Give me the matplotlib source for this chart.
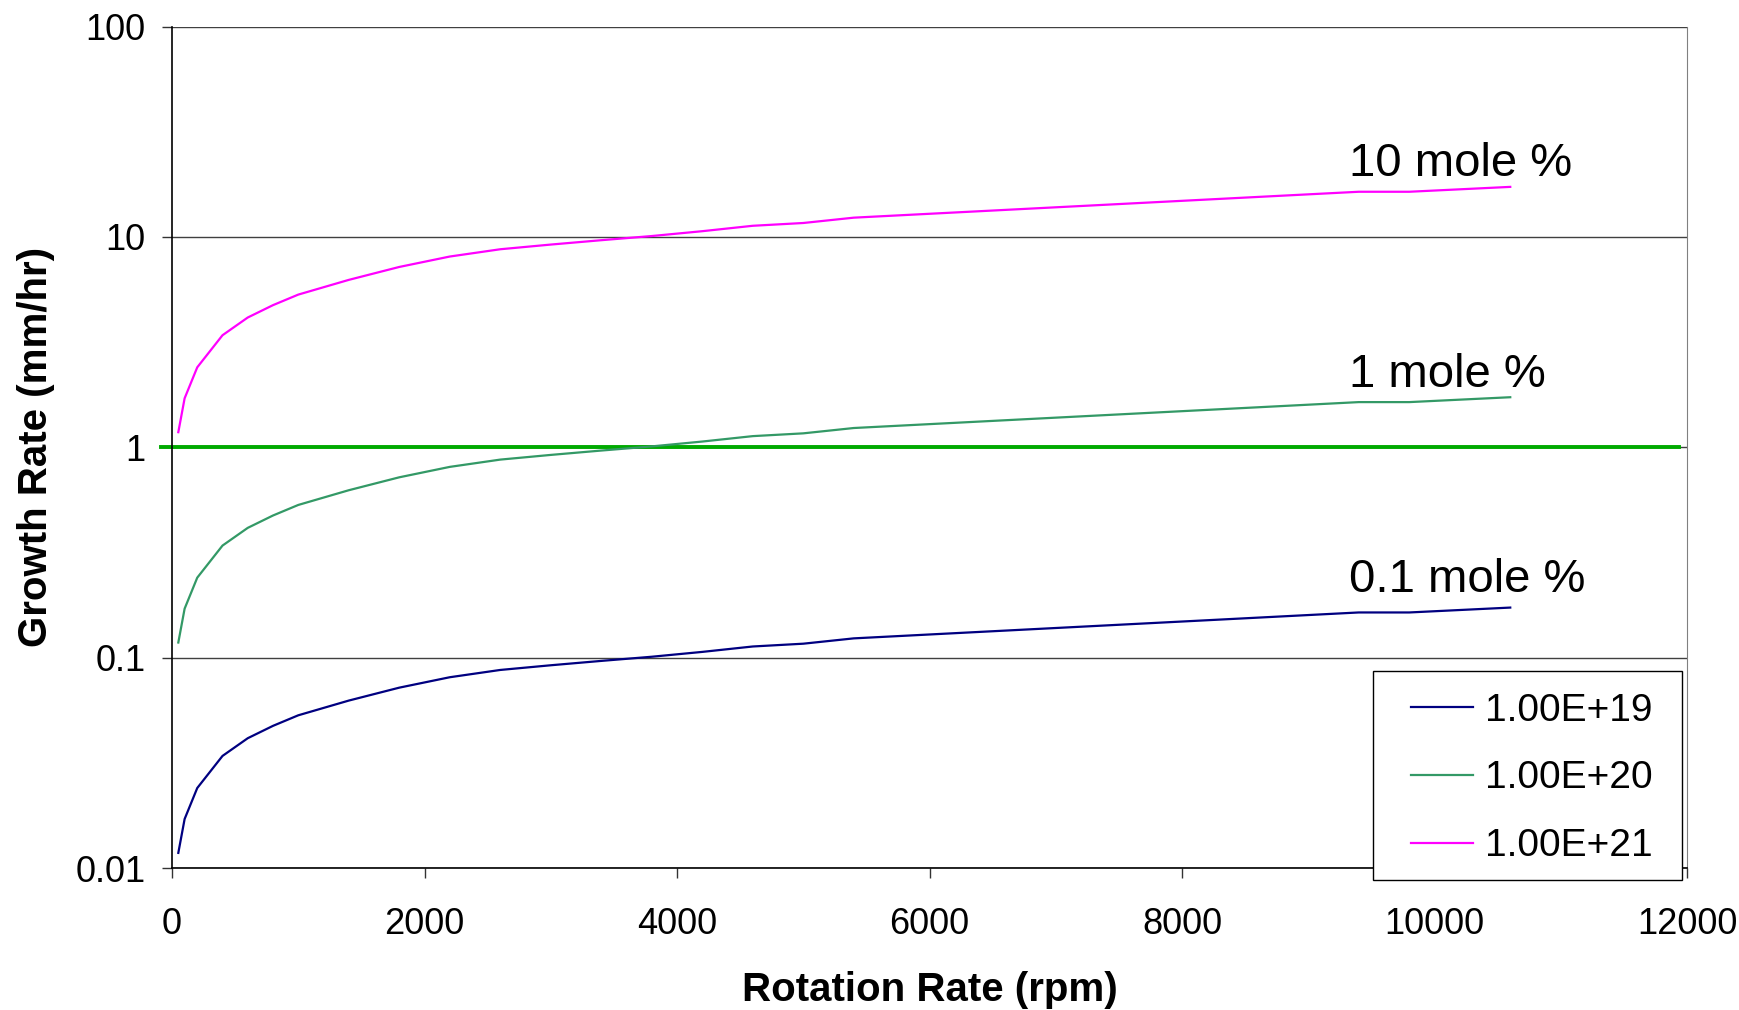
import matplotlib
matplotlib.use("Agg")
import matplotlib.pyplot as plt
from matplotlib.patches import Rectangle
from matplotlib.ticker import FixedLocator, FixedFormatter, NullLocator

plt.rcParams['font.family'] = ['Liberation Sans', 'DejaVu Sans']

# Data
rpm = [50, 100, 200, 400, 600, 800, 1000, 1400, 1800, 2200, 2600, 3000,
       3400, 3800, 4200, 4600, 5000, 5400, 9400, 9800, 10600]
rate_e19 = [0.0118, 0.0171, 0.0240, 0.0341, 0.0414, 0.0474, 0.0532, 0.0625,
            0.0720, 0.0807, 0.0874, 0.0920, 0.0965, 0.1010, 0.1065, 0.1130,
            0.1165, 0.1235, 0.1640, 0.1640, 0.1730]
rate_e20 = [0.118, 0.171, 0.240, 0.341, 0.414, 0.474, 0.532, 0.625,
            0.720, 0.807, 0.874, 0.920, 0.965, 1.010, 1.065, 1.130,
            1.165, 1.235, 1.640, 1.640, 1.730]
rate_e21 = [1.18, 1.71, 2.40, 3.41, 4.14, 4.74, 5.32, 6.25,
            7.20, 8.07, 8.74, 9.20, 9.65, 10.10, 10.65, 11.30,
            11.65, 12.35, 16.40, 16.40, 17.30]
series_labels = ['1.00E+19', '1.00E+20', '1.00E+21']
curve_labels = ['0.1 mole %', '1 mole %', '10 mole %']
series_colors = ['#000080', '#339966', '#ff00ff']
reference_level = 1.0

x_ticks = [0, 2000, 4000, 6000, 8000, 10000, 12000]
y_ticks = [0.01, 0.1, 1, 10, 100]
y_tick_labels = ['0.01', '0.1', '1', '10', '100']

W, H = 1739, 1010
fig = plt.figure(figsize=(W / 100, H / 100), dpi=100)
ax = fig.add_axes([172 / W, 1 - 868 / H, (1687 - 172) / W, (868 - 26.6) / H])

ax.set_yscale('log')
ax.set_xlim(0, 12000)
ax.set_ylim(0.01, 100)

for y in y_ticks:
    ax.axhline(y, color='#404040', lw=1.0, zorder=1)

lines = []
for ys, c, lab in zip([rate_e19, rate_e20, rate_e21], series_colors, series_labels):
    ln, = ax.plot(rpm, ys, color=c, lw=1.6, label=lab, zorder=3)
    lines.append(ln)

ax.axhline(reference_level, xmin=-0.007, xmax=0.995, color='#00aa00', lw=2.8,
           clip_on=False, zorder=2)

label_offsets = [(-161, 16), (-161, 10), (-161, 11)]
for ys, txt, off in zip([rate_e19, rate_e20, rate_e21], curve_labels, label_offsets):
    ax.annotate(txt, xy=(rpm[-1], ys[-1]), xytext=off,
                textcoords='offset pixels', ha='left', va='baseline',
                fontsize=34)

ax.xaxis.set_major_locator(FixedLocator(x_ticks))
ax.yaxis.set_major_locator(FixedLocator(y_ticks))
ax.yaxis.set_major_formatter(FixedFormatter(y_tick_labels))
ax.yaxis.set_minor_locator(NullLocator())
ax.tick_params(axis='both', direction='out', length=7.5, width=1.0,
               labelsize=26, color='#333333')
ax.tick_params(axis='y', pad=11.5)
ax.tick_params(axis='x', pad=20.5)

for s in ['left', 'bottom']:
    ax.spines[s].set_color('black')
    ax.spines[s].set_linewidth(1.2)
ax.spines['right'].set_color('#808080')
ax.spines['top'].set_visible(False)

ax.set_xlabel('Rotation Rate (rpm)', fontsize=29, fontweight='bold', labelpad=21)
ax.set_ylabel('Growth Rate (mm/hr)', fontsize=29, fontweight='bold', labelpad=15)

# Legend box (frame drawn separately to match the original padding)
box = Rectangle((1373 / W, 1 - 880 / H), (1682 - 1373) / W, (880 - 670.7) / H,
                transform=fig.transFigure, facecolor='white', edgecolor='black',
                lw=1.0, zorder=5)
fig.patches.append(box)
leg = fig.legend(handles=lines, labels=series_labels, loc='center',
                 bbox_to_anchor=(1532 / W, 1 - 778.5 / H), fontsize=28,
                 frameon=False, handlelength=1.6, handletextpad=0.3,
                 labelspacing=0.82, borderpad=0, borderaxespad=0)
leg.set_zorder(6)

fig.savefig('out.png', dpi=100, facecolor='white')
